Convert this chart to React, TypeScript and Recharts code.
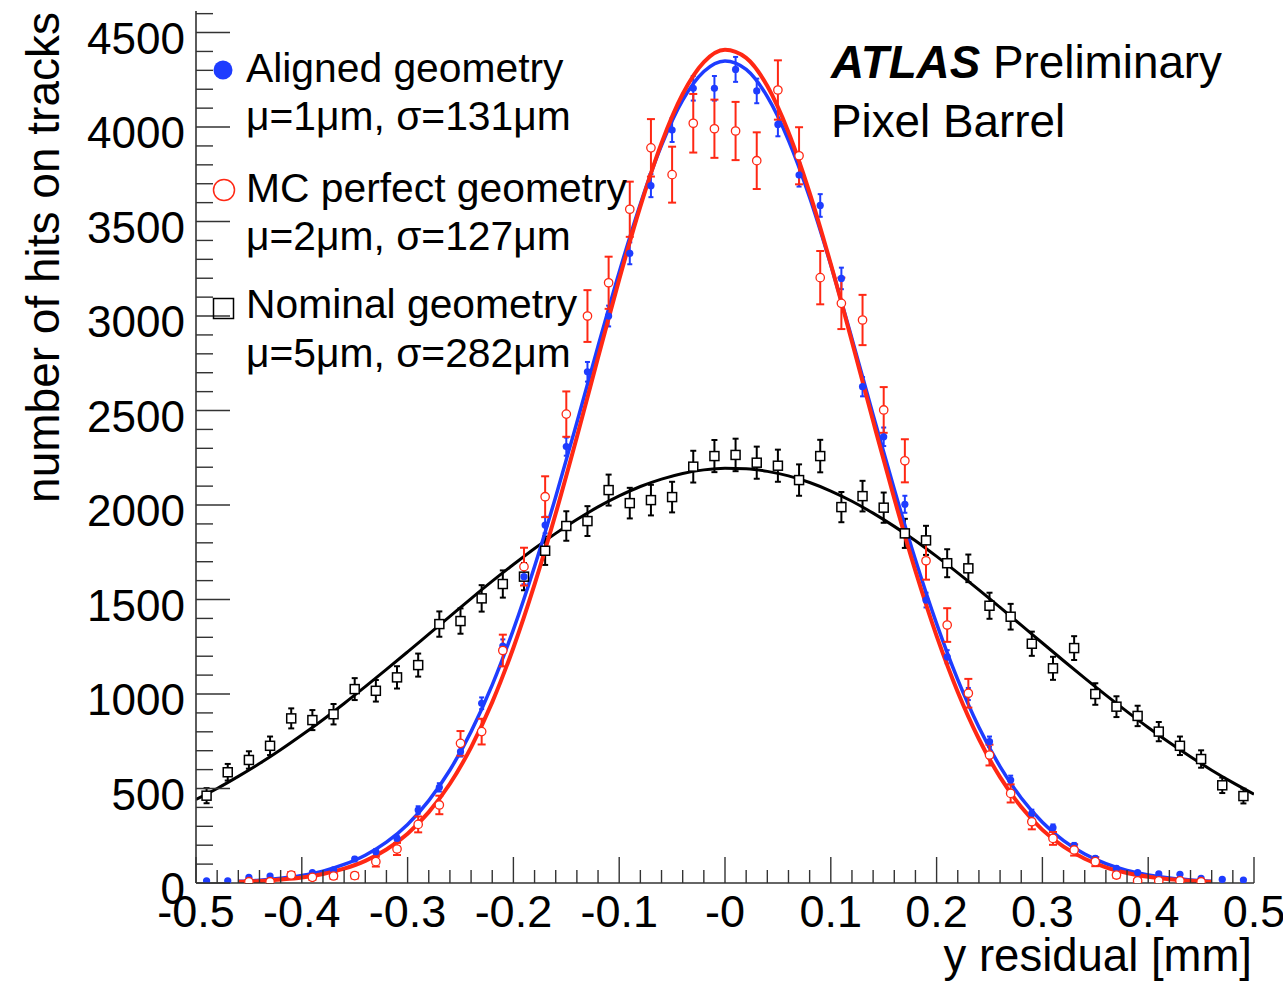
import React from 'react'
import { ComposedChart, ErrorBar, Line, Scatter, XAxis, YAxis } from 'recharts'

const FONT = '"Liberation Sans", Arial, Helvetica, sans-serif'
const FRAME = '#333'
const BLUE = '#1e3cff'
const RED = '#ff2814'

// bin centres of the residual histograms (mm)
const binCenters = [
  -0.49, -0.47, -0.45, -0.43, -0.41, -0.39, -0.37, -0.35, -0.33, -0.31,
  -0.29, -0.27, -0.25, -0.23, -0.21, -0.19, -0.17, -0.15, -0.13, -0.11,
  -0.09, -0.07, -0.05, -0.03, -0.01, 0.01, 0.03, 0.05, 0.07, 0.09,
  0.11, 0.13, 0.15, 0.17, 0.19, 0.21, 0.23, 0.25, 0.27, 0.29,
  0.31, 0.33, 0.35, 0.37, 0.39, 0.41, 0.43, 0.45, 0.47, 0.49,
]

const alignedCounts = [
  12, 12, 30, 37, 46, 55, 70, 127, 166, 236,
  386, 506, 695, 951, 1254, 1621, 1894, 2309, 2705, 3000,
  3332, 3690, 3984, 4205, 4205, 4305, 4191, 4014, 3746, 3585,
  3199, 2626, 2361, 2004, 1497, 1197, 1000, 748, 545, 369,
  293, 198, 130, 78, 55, 48, 46, 25, 19, 16,
]
const alignedErr = [
  3, 3, 5, 6, 7, 7, 8, 11, 13, 15,
  20, 22, 26, 31, 35, 40, 44, 48, 52, 55,
  58, 61, 63, 65, 65, 66, 65, 63, 61, 60,
  57, 51, 49, 45, 39, 35, 32, 27, 23, 19,
  17, 14, 11, 9, 7, 7, 7, 5, 4, 4,
]

const mcCounts = [
  null, null, 7, 7, 42, 30, 37, 39, 113, 180,
  310, 413, 739, 801, 1230, 1674, 2044, 2481, 3000, 3176,
  3565, 3890, 3748, 4020, 3991, 3979, 3822, 4196, 3848, 3203,
  3067, 2979, 2503, 2234, 1705, 1365, 1004, 677, 474, 324,
  236, 175, 113, 42, 12, 12, 12, 7, null, null,
]
const mcErr = [
  0, 0, 6, 6, 16, 13, 15, 15, 26, 32,
  42, 49, 65, 68, 84, 100, 108, 120, 137, 138,
  146, 152, 148, 155, 154, 154, 150, 157, 151, 141,
  136, 133, 121, 114, 100, 89, 76, 55, 48, 40,
  34, 30, 24, 14, 8, 8, 8, 6, 0, 0,
]

const nominalCounts = [
  462, 586, 651, 726, 871, 862, 893, 1026, 1017, 1088,
  1153, 1370, 1386, 1506, 1582, 1621, 1758, 1889, 1915, 2079,
  2010, 2026, 2042, 2203, 2259, 2265, 2224, 2208, 2132, 2259,
  1989, 2047, 1986, 1850, 1813, 1692, 1665, 1467, 1409, 1266,
  1136, 1243, 1000, 933, 884, 801, 726, 656, 517, 460,
]
const nominalErr = [
  40, 44, 46, 49, 53, 53, 54, 58, 57, 59,
  61, 67, 67, 70, 72, 72, 75, 78, 79, 82,
  81, 81, 81, 84, 85, 86, 85, 85, 83, 86,
  80, 81, 80, 77, 77, 74, 73, 69, 68, 64,
  61, 63, 57, 55, 54, 51, 49, 46, 41, 39,
]

// gaussian fit curves
const fitX = [
  -0.46, -0.44, -0.42, -0.4, -0.38, -0.36, -0.34, -0.32, -0.3, -0.28,
  -0.26, -0.24, -0.22, -0.2, -0.18, -0.16, -0.14, -0.12, -0.1, -0.08,
  -0.06, -0.04, -0.02, 0, 0.02, 0.04, 0.06, 0.08, 0.1, 0.12,
  0.14, 0.16, 0.18, 0.2, 0.22, 0.24, 0.26, 0.28, 0.3, 0.32,
  0.34, 0.36, 0.38, 0.4, 0.42, 0.44, 0.46,
]
const alignedFit = [
  9, 15, 25, 40, 63, 98, 147, 216, 310, 436,
  598, 801, 1048, 1341, 1675, 2044, 2437, 2840, 3232, 3593,
  3903, 4142, 4294, 4350, 4305, 4161, 3930, 3627, 3270, 2880,
  2477, 2083, 1710, 1372, 1076, 824, 616, 450, 322, 224,
  153, 102, 66, 42, 26, 16, 9,
]
const mcFit = [
  6, 10, 18, 29, 48, 76, 117, 177, 261, 375,
  525, 718, 957, 1245, 1580, 1955, 2360, 2780, 3194, 3580,
  3915, 4175, 4344, 4409, 4366, 4217, 3973, 3652, 3275, 2864,
  2444, 2034, 1651, 1308, 1011, 762, 560, 402, 281, 192,
  128, 83, 53, 33, 20, 12, 7,
]
const nominalFitX = [
  -0.5, -0.48, -0.46, -0.44, -0.42, -0.4, -0.38, -0.36, -0.34, -0.32,
  -0.3, -0.28, -0.26, -0.24, -0.22, -0.2, -0.18, -0.16, -0.14, -0.12,
  -0.1, -0.08, -0.06, -0.04, -0.02, 0, 0.02, 0.04, 0.06, 0.08,
  0.1, 0.12, 0.14, 0.16, 0.18, 0.2, 0.22, 0.24, 0.26, 0.28,
  0.3, 0.32, 0.34, 0.36, 0.38, 0.4, 0.42, 0.44, 0.46, 0.48, 0.5,
]
const nominalFit = [
  442, 500, 564, 632, 705, 783, 864, 950, 1039, 1130,
  1223, 1317, 1411, 1505, 1597, 1685, 1770, 1850, 1923, 1990,
  2048, 2098, 2137, 2167, 2186, 2195, 2192, 2178, 2154, 2119,
  2074, 2020, 1957, 1887, 1811, 1728, 1641, 1551, 1458, 1364,
  1270, 1176, 1084, 994, 907, 823, 743, 668, 597, 531, 470,
]

const xMajorTicks = [-0.5, -0.4, -0.3, -0.2, -0.1, 0, 0.1, 0.2, 0.3, 0.4, 0.5]
const xTickLabels = ['-0.5', '-0.4', '-0.3', '-0.2', '-0.1', '-0', '0.1', '0.2', '0.3', '0.4', '0.5']

const legendEntries = [
  { name: 'Aligned geometry', stats: 'μ=1μm, σ=131μm' },
  { name: 'MC perfect geometry', stats: 'μ=2μm, σ=127μm' },
  { name: 'Nominal geometry', stats: 'μ=5μm, σ=282μm' },
]

const Y_MAX = 4614
const xMinor = Array.from({ length: 51 }, (_, i) => Math.round((i * 0.02 - 0.5) * 100) / 100)
const yMinor = Array.from({ length: 47 }, (_, i) => i * 100)

const points = (ys: (number | null)[], errs: number[]) =>
  binCenters
    .map((x, i) => ({ x, y: ys[i], err: errs[i] }))
    .filter((p) => p.y !== null)
const curve = (xs: number[], ys: number[]) => xs.map((x, i) => ({ x, y: ys[i] }))

const alignedData = points(alignedCounts, alignedErr)
const mcData = points(mcCounts, mcErr)
const nominalData = points(nominalCounts, nominalErr)

const isMajor = (v: number, step: number) => Math.abs(v / step - Math.round(v / step)) < 1e-6

function BottomTick({ x, y, payload }: any) {
  const v = payload.value
  const major = isMajor(v, 0.1)
  const idx = xMajorTicks.findIndex((t) => Math.abs(t - v) < 1e-6)
  return (
    <g>
      <line x1={x} x2={x} y1={y} y2={y - (major ? 26 : 13)} stroke={FRAME} strokeWidth={1.4} />
      {major && idx >= 0 && (
        <text x={x} y={y + 44} textAnchor="middle" fontSize={45} fontFamily={FONT} fill="#000">
          {xTickLabels[idx]}
        </text>
      )}
    </g>
  )
}

function TopTick({ x, y, payload }: any) {
  const major = isMajor(payload.value, 0.1)
  return <line x1={x} x2={x} y1={y} y2={y + (major ? 24 : 12)} stroke={FRAME} strokeWidth={1.4} />
}

function LeftTick({ x, y, payload }: any) {
  const v = payload.value
  const major = v % 500 === 0
  return (
    <g>
      <line x1={x} x2={x + (major ? 34 : 17)} y1={y} y2={y} stroke={FRAME} strokeWidth={1.4} />
      {major && (
        <text x={x - 11} y={y + 21} textAnchor="end" fontSize={44} fontFamily={FONT} fill="#000">
          {v}
        </text>
      )}
    </g>
  )
}

function RightTick({ x, y, payload }: any) {
  const major = payload.value % 500 === 0
  return <line x1={x} x2={x - (major ? 35 : 17)} y1={y} y2={y} stroke={FRAME} strokeWidth={1.4} />
}

const blueDot = (p: any) => <circle cx={p.cx} cy={p.cy} r={3.6} fill={BLUE} />
const redDot = (p: any) => (
  <circle cx={p.cx} cy={p.cy} r={4.2} fill="#fff" stroke={RED} strokeWidth={1.3} />
)
const blackDot = (p: any) => (
  <rect x={p.cx - 4.5} y={p.cy - 4.5} width={9} height={9} fill="#fff" stroke="#000" strokeWidth={1.5} />
)

const axisLine = { stroke: FRAME, strokeWidth: 1.6 }

export default function App() {
  return (
    <div style={{ position: 'absolute', left: 0, top: 0, width: 1283, height: 988, overflow: 'hidden', background: '#fff' }}>
      <ComposedChart width={1283} height={988} margin={{ top: 11, right: 29, bottom: 0, left: 0 }}>
        <XAxis
          xAxisId="b"
          dataKey="x"
          type="number"
          domain={[-0.5, 0.5]}
          allowDataOverflow
          ticks={xMinor}
          interval={0}
          height={105}
          tickSize={0}
          tickMargin={0}
          tickLine={false}
          axisLine={axisLine}
          tick={<BottomTick />}
        />
        <XAxis
          xAxisId="t"
          orientation="top"
          type="number"
          domain={[-0.5, 0.5]}
          allowDataOverflow
          ticks={xMinor}
          interval={0}
          height={0}
          tickSize={0}
          tickMargin={0}
          tickLine={false}
          axisLine={axisLine}
          tick={<TopTick />}
        />
        <YAxis
          yAxisId="l"
          dataKey="y"
          type="number"
          domain={[0, Y_MAX]}
          allowDataOverflow
          ticks={yMinor}
          interval={0}
          width={196}
          tickSize={0}
          tickMargin={0}
          tickLine={false}
          axisLine={axisLine}
          tick={<LeftTick />}
        />
        <YAxis
          yAxisId="r"
          orientation="right"
          type="number"
          domain={[0, Y_MAX]}
          allowDataOverflow
          ticks={yMinor}
          interval={0}
          width={0}
          tickSize={0}
          tickMargin={0}
          tickLine={false}
          axisLine={axisLine}
          tick={<RightTick />}
        />

        <Scatter xAxisId="b" yAxisId="l" data={nominalData} dataKey="y" shape={blackDot} isAnimationActive={false}>
          <ErrorBar dataKey="err" direction="y" width={3} stroke="#000" strokeWidth={2} />
        </Scatter>
        <Line
          xAxisId="b"
          yAxisId="l"
          data={curve(nominalFitX, nominalFit)}
          dataKey="y"
          type="monotone"
          stroke="#000"
          strokeWidth={3}
          dot={false}
          isAnimationActive={false}
        />
        <Scatter xAxisId="b" yAxisId="l" data={alignedData} dataKey="y" shape={blueDot} isAnimationActive={false}>
          <ErrorBar dataKey="err" direction="y" width={2.5} stroke={BLUE} strokeWidth={2} />
        </Scatter>
        <Line
          xAxisId="b"
          yAxisId="l"
          data={curve(fitX, alignedFit)}
          dataKey="y"
          type="monotone"
          stroke={BLUE}
          strokeWidth={3.5}
          dot={false}
          isAnimationActive={false}
        />
        <Scatter xAxisId="b" yAxisId="l" data={mcData} dataKey="y" shape={redDot} isAnimationActive={false}>
          <ErrorBar dataKey="err" direction="y" width={4} stroke={RED} strokeWidth={2} />
        </Scatter>
        <Line
          xAxisId="b"
          yAxisId="l"
          data={curve(fitX, mcFit)}
          dataKey="y"
          type="monotone"
          stroke={RED}
          strokeWidth={4}
          dot={false}
          isAnimationActive={false}
        />
      </ComposedChart>

      <svg
        width={1283}
        height={988}
        style={{ position: 'absolute', left: 0, top: 0, pointerEvents: 'none' }}
        fontFamily={FONT}
      >
        <text x={59} y={12} transform="rotate(-90 59 12)" textAnchor="end" fontSize={46} fill="#000">
          number of hits on tracks
        </text>
        <text x={1252} y={971} textAnchor="end" fontSize={45.5} fill="#000">
          y residual [mm]
        </text>

        <circle cx={223} cy={70} r={9.5} fill={BLUE} />
        <circle cx={224} cy={190} r={10.5} fill="none" stroke={RED} strokeWidth={1.5} />
        <rect x={213.5} y={298.5} width={20} height={20} fill="none" stroke="#000" strokeWidth={1.5} />
        {legendEntries.map((e, i) => (
          <g key={e.name}>
            <text x={246} y={[82, 201.5, 318][i]} fontSize={40.8} fill="#000">
              {e.name}
            </text>
            <text x={246} y={[130, 250, 367][i]} fontSize={40.8} fill="#000">
              {e.stats}
            </text>
          </g>
        ))}

        <text x={831} y={78} fontSize={45.8} fill="#000">
          <tspan fontWeight="bold" fontStyle="italic">
            ATLAS
          </tspan>
          <tspan> Preliminary</tspan>
        </text>
        <text x={831} y={137} fontSize={45.8} fill="#000">
          Pixel Barrel
        </text>
      </svg>
    </div>
  )
}
